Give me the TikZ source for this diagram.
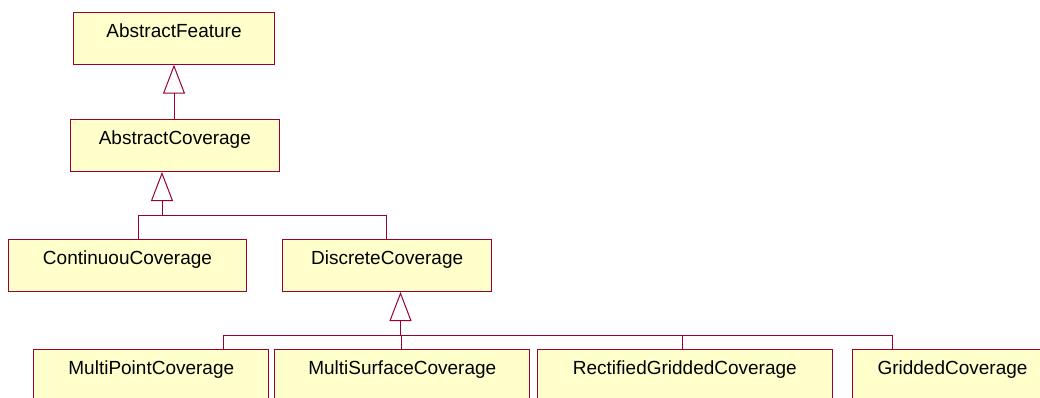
\documentclass[tikz,border=0pt]{standalone}
\usepackage{fontspec}
\setmainfont{Liberation Sans}
\usetikzlibrary{arrows.meta}
\definecolor{umlline}{RGB}{153,0,51}
\definecolor{umlfill}{RGB}{255,255,204}
\begin{document}
\begin{tikzpicture}[x=1pt,y=-1pt,
  classbox/.style={draw=umlline, line width=1pt, fill=umlfill, rectangle,
    anchor=north west, minimum height=52pt, inner xsep=0pt, inner ysep=0pt,
    text height=25pt, text depth=27pt, font=\fontsize{19}{22}\selectfont},
  conn/.style={draw=umlline, line width=1pt},
  inherit/.style={conn, -{Triangle[open, length=29pt, width=22pt, line width=1pt]}}]
\useasboundingbox (0,0) rectangle (1040,398);
\begin{scope}
\clip (0,0) rectangle (1040,398);
% class boxes
\node[classbox, minimum width=201.6pt] (af) at (72.7,11.7) {AbstractFeature};
\node[classbox, minimum width=209.3pt] (ac) at (69.7,119) {AbstractCoverage};
\node[classbox, minimum width=237.4pt] (cc) at (8.3,238.7) {ContinuouCoverage};
\node[classbox, minimum width=208.7pt] (dc) at (282.3,239) {DiscreteCoverage};
\node[classbox, minimum width=235pt] (mp) at (33.3,349.3) {MultiPointCoverage};
\node[classbox, minimum width=255pt] (ms) at (274.3,349.3) {MultiSurfaceCoverage};
\node[classbox, minimum width=295.3pt] (rg) at (536.7,349.3) {RectifiedGriddedCoverage};
\node[classbox, minimum width=200pt] (gc) at (852,349.3) {GriddedCoverage};

% AbstractCoverage -> AbstractFeature
\coordinate (t0) at (174,119);
\draw[inherit] (t0) -- (t0 |- af.south);

% ContinuouCoverage, DiscreteCoverage -> AbstractCoverage
\coordinate (j1) at (162,215.3);
\coordinate (b1) at (138.7,215.3);
\coordinate (b2) at (386,215.3);
\draw[inherit] (j1) -- (j1 |- ac.south);
\draw[conn] (cc.north -| b1) -- (b1) -- (b2) -- (dc.north -| b2);

% four subclasses -> DiscreteCoverage
\coordinate (j2) at (400.5,335.3);
\coordinate (c1) at (223.3,335.3);
\coordinate (c2) at (401.3,335.3);
\coordinate (c3) at (682.7,335.3);
\coordinate (c4) at (892.7,335.3);
\draw[inherit] (j2) -- (j2 |- dc.south);
\draw[conn] (mp.north -| c1) -- (c1) -- (c4) -- (gc.north -| c4);
\draw[conn] (ms.north -| c2) -- (c2);
\draw[conn] (rg.north -| c3) -- (c3);
\end{scope}
\end{tikzpicture}
\end{document}
